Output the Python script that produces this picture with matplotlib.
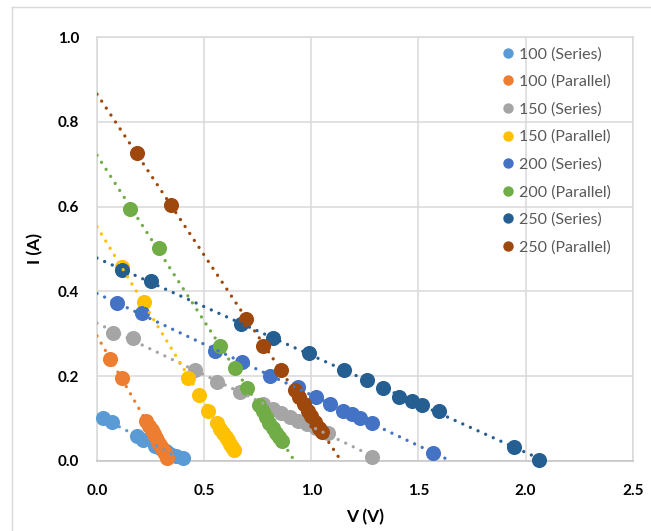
import numpy as np
import matplotlib
matplotlib.use("Agg")
import matplotlib.pyplot as plt
from matplotlib.lines import Line2D

# Fonts
plt.rcParams['font.family'] = ['Lato', 'DejaVu Sans']

# Data: voltage (V) and current (A) per series
labels = ['100 (Series)', '100 (Parallel)', '150 (Series)', '150 (Parallel)',
          '200 (Series)', '200 (Parallel)', '250 (Series)', '250 (Parallel)']
colors = ['#5B9BD5', '#ED7D31', '#A5A5A5', '#FFC000',
          '#4472C4', '#70AD47', '#255E91', '#9E480E']

s100_v = [0.03, 0.069, 0.185, 0.216, 0.27, 0.294, 0.32, 0.341, 0.37, 0.403]
s100_i = [0.100, 0.092, 0.058, 0.049, 0.035, 0.029, 0.022, 0.017, 0.011, 0.006]

p100_v = [0.061, 0.115, 0.229, 0.245, 0.255, 0.265, 0.275, 0.285, 0.294, 0.304, 0.313, 0.321, 0.328]
p100_i = [0.240, 0.195, 0.094, 0.082, 0.072, 0.062, 0.053, 0.045, 0.037, 0.029, 0.021, 0.013, 0.006]

s150_v = [0.076, 0.17, 0.457, 0.558, 0.667, 0.776, 0.82, 0.86, 0.90, 0.94, 0.98, 1.02, 1.05, 1.08, 1.282]
s150_i = [0.302, 0.289, 0.214, 0.187, 0.163, 0.133, 0.123, 0.113, 0.104, 0.094, 0.086, 0.077, 0.071, 0.066, 0.009]

p150_v = [0.115, 0.219, 0.426, 0.476, 0.52, 0.558, 0.575, 0.59, 0.60, 0.61, 0.62, 0.63, 0.64]
p150_i = [0.457, 0.376, 0.195, 0.155, 0.118, 0.088, 0.076, 0.066, 0.057, 0.048, 0.040, 0.032, 0.025]

s200_v = [0.095, 0.209, 0.551, 0.675, 0.807, 0.94, 1.022, 1.087, 1.149, 1.188, 1.227, 1.285, 1.569]
s200_i = [0.372, 0.348, 0.258, 0.234, 0.200, 0.173, 0.150, 0.134, 0.118, 0.110, 0.102, 0.088, 0.019]

p200_v = [0.154, 0.291, 0.574, 0.644, 0.70, 0.757, 0.775, 0.79, 0.805, 0.82, 0.835, 0.85, 0.862]
p200_i = [0.594, 0.502, 0.271, 0.218, 0.171, 0.132, 0.117, 0.103, 0.090, 0.077, 0.065, 0.055, 0.047]

s250_v = [0.115, 0.25, 0.67, 0.82, 0.99, 1.154, 1.258, 1.333, 1.411, 1.468, 1.518, 1.597, 1.946, 2.063]
s250_i = [0.450, 0.425, 0.322, 0.289, 0.254, 0.214, 0.190, 0.171, 0.151, 0.142, 0.131, 0.118, 0.033, 0.002]

p250_v = [0.185, 0.344, 0.694, 0.776, 0.857, 0.924, 0.945, 0.965, 0.985, 1.0, 1.017, 1.035, 1.048]
p250_i = [0.727, 0.604, 0.335, 0.271, 0.214, 0.167, 0.150, 0.134, 0.118, 0.106, 0.092, 0.078, 0.067]

series_v = [s100_v, p100_v, s150_v, p150_v, s200_v, p200_v, s250_v, p250_v]
series_i = [s100_i, p100_i, s150_i, p150_i, s200_i, p200_i, s250_i, p250_i]

x_ticks = [0.0, 0.5, 1.0, 1.5, 2.0, 2.5]
y_ticks = [0.0, 0.2, 0.4, 0.6, 0.8, 1.0]

# Figure
fig = plt.figure(figsize=(6.51, 5.31), dpi=100)
ax = fig.add_axes([97/651, 1 - 460.7/531, (632.7 - 97)/651, (460.7 - 37.3)/531])

# Outer chart border (left and top edges visible)
fig.add_artist(Line2D([12/651, 12/651], [0, 1 - 7/531], color='#D9D9D9', lw=1.0))
fig.add_artist(Line2D([12/651, 1], [1 - 7/531, 1 - 7/531], color='#D9D9D9', lw=1.0))

# Points
for v, i, c in zip(series_v, series_i, colors):
    ax.scatter(v, i, s=118, color=c, linewidths=0, zorder=3, clip_on=False)

# Linear trendlines (drawn on top, from V=0 to x-intercept)
for v, i, c in zip(series_v, series_i, colors):
    a, b = np.polyfit(v, i, 1)
    xs = np.array([0.0, -b / a])
    ax.plot(xs, a * xs + b, color=c, lw=2.4, linestyle=(0, (0.01, 2.5)),
            dash_capstyle='round', zorder=4)

# Axes styling
ax.set_xlim(0, 2.5)
ax.set_ylim(0, 1.0)
ax.set_xticks(x_ticks)
ax.set_yticks(y_ticks)
ax.set_xticklabels([f"{t:.1f}" for t in x_ticks])
ax.set_yticklabels([f"{t:.1f}" for t in y_ticks])
ax.grid(True, color='#D9D9D9', lw=1.1)
ax.set_axisbelow(True)
for name, sp in ax.spines.items():
    sp.set_color('#D9D9D9')
    sp.set_linewidth(1.1)
ax.spines['bottom'].set_color('#C4C4C4')
ax.tick_params(axis='both', length=0, labelsize=11, colors='black')
ax.tick_params(axis='x', pad=17)
ax.tick_params(axis='y', pad=13)
for lab in ax.get_xticklabels() + ax.get_yticklabels():
    lab.set_fontweight('bold')

ax.set_xlabel('V (V)', fontsize=12.5, fontweight='bold', labelpad=8)
ax.set_ylabel('I (A)', fontsize=12.5, fontweight='bold', labelpad=10)

# Legend
handles = [Line2D([], [], marker='o', linestyle='', markersize=7.5,
                  markerfacecolor=c, markeredgewidth=0) for c in colors]
leg = ax.legend(handles, labels, loc='upper left', bbox_to_anchor=(490/651, 1 - 39/531),
                bbox_transform=fig.transFigure, frameon=False, fontsize=11.5,
                labelspacing=0.83, handletextpad=0.1, handlelength=1.2, borderpad=0)
for t in leg.get_texts():
    t.set_color('#595959')

fig.savefig('out.png', dpi=100)
